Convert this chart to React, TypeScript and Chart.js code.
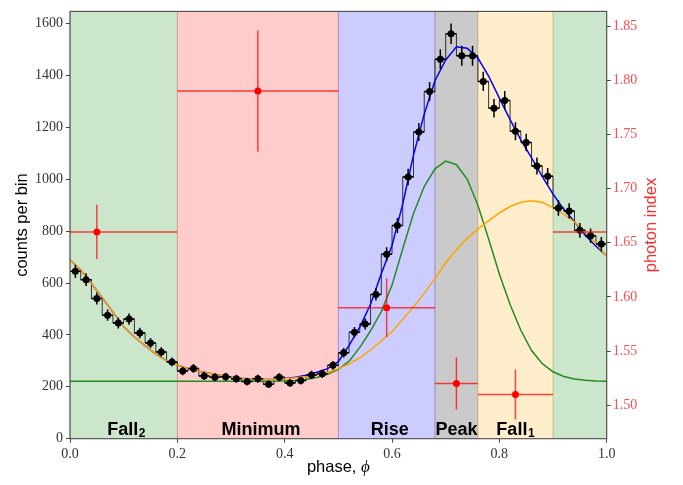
import React, { useEffect, useRef } from "react";
import { Chart, registerables } from "chart.js";

Chart.register(...registerables);

// ---------- data ----------
const binPhase = [
  0.01, 0.03, 0.05, 0.07, 0.09, 0.11, 0.13, 0.15, 0.17, 0.19,
  0.21, 0.23, 0.25, 0.27, 0.29, 0.31, 0.33, 0.35, 0.37, 0.39,
  0.41, 0.43, 0.45, 0.47, 0.49, 0.51, 0.53, 0.55, 0.57, 0.59,
  0.61, 0.63, 0.65, 0.67, 0.69, 0.71, 0.73, 0.75, 0.77, 0.79,
  0.81, 0.83, 0.85, 0.87, 0.89, 0.91, 0.93, 0.95, 0.97, 0.99,
];
const binHalfWidth = [
  0.01, 0.01, 0.01, 0.01, 0.01, 0.01, 0.01, 0.01, 0.01, 0.01,
  0.01, 0.01, 0.01, 0.01, 0.01, 0.01, 0.01, 0.01, 0.01, 0.01,
  0.01, 0.01, 0.01, 0.01, 0.01, 0.01, 0.01, 0.01, 0.01, 0.01,
  0.01, 0.01, 0.01, 0.01, 0.01, 0.01, 0.01, 0.01, 0.01, 0.01,
  0.01, 0.01, 0.01, 0.01, 0.01, 0.01, 0.01, 0.01, 0.01, 0.01,
];
const counts = [
  645, 613, 540, 476, 446, 461, 407, 369, 334, 296,
  261, 271, 242, 237, 239, 231, 220, 231, 210, 237,
  215, 224, 246, 250, 283, 331, 410, 442, 556, 711,
  822, 1009, 1182, 1338, 1463, 1561, 1476, 1476, 1377, 1274,
  1304, 1185, 1142, 1051, 1012, 889, 878, 803, 782, 750,
];
const countErr = [
  25.4, 24.8, 23.2, 21.8, 21.1, 21.5, 20.2, 19.2, 18.3, 17.2,
  16.2, 16.5, 15.6, 15.4, 15.5, 15.2, 14.8, 15.2, 14.5, 15.4,
  14.7, 15.0, 15.7, 15.8, 16.8, 18.2, 20.2, 21.0, 23.6, 26.7,
  28.7, 31.8, 34.4, 36.6, 38.2, 39.5, 38.4, 38.4, 37.1, 35.7,
  36.1, 34.4, 33.8, 32.4, 31.8, 29.8, 29.6, 28.3, 28.0, 27.4,
];

const curvePhase = [
  0.0, 0.02, 0.04, 0.06, 0.08, 0.1, 0.12, 0.14, 0.16, 0.18,
  0.2, 0.22, 0.24, 0.26, 0.28, 0.3, 0.32, 0.34, 0.36, 0.38,
  0.4, 0.42, 0.44, 0.46, 0.48, 0.5, 0.52, 0.54, 0.56, 0.58,
  0.6, 0.62, 0.64, 0.66, 0.68, 0.7, 0.72, 0.74, 0.76, 0.78,
  0.8, 0.82, 0.84, 0.86, 0.88, 0.9, 0.92, 0.94, 0.96, 0.98, 1.0,
];
const totalModel = [
  690, 650, 598, 543, 488, 432, 392, 358, 326, 301,
  284, 270, 260, 252, 245, 238, 233, 229, 228, 229,
  232, 237, 245, 256, 270, 297, 360, 430, 518, 636,
  745, 905, 1093, 1251, 1380, 1460, 1511, 1505, 1467, 1398,
  1313, 1230, 1152, 1082, 1010, 943, 884, 836, 784, 742, 704,
];
const narrowComponent = [
  221, 221, 221, 221, 221, 221, 221, 221, 221, 221,
  221, 221, 221, 221, 221, 221, 221, 221, 221, 221,
  222, 224, 228, 236, 248, 267, 299, 352, 416, 490,
  592, 732, 868, 972, 1040, 1070, 1056, 1001, 900, 770,
  635, 517, 418, 340, 289, 258, 240, 230, 225, 222, 221,
];
const broadComponent = [
  690, 650, 598, 543, 488, 432, 392, 358, 326, 301,
  284, 270, 260, 252, 245, 238, 233, 229, 227, 228,
  231, 235, 240, 246, 256, 270, 288, 312, 342, 377,
  412, 460, 508, 560, 618, 678, 728, 772, 808, 840,
  870, 895, 911, 917, 911, 891, 866, 835, 797, 752, 702,
];

const photonPhase = [0.05, 0.35, 0.59, 0.72, 0.83, 1.05];
const photonPhaseErr = [0.15, 0.15, 0.09, 0.04, 0.07, 0.15];
const photonIndex = [1.66, 1.79, 1.59, 1.52, 1.51, 1.66];
const photonIndexErr = [0.025, 0.056, 0.027, 0.024, 0.023, 0.025];

const regionStart = [0.0, 0.2, 0.5, 0.68, 0.76, 0.9];
const regionEnd = [0.2, 0.5, 0.68, 0.76, 0.9, 1.0];
const regionColor = [
  "rgba(0,128,0,0.2)",
  "rgba(255,0,0,0.2)",
  "rgba(0,0,255,0.2)",
  "rgba(128,128,128,0.42)",
  "rgba(255,165,0,0.2)",
  "rgba(0,128,0,0.2)",
];
const regionLabel = ["Fall", "Minimum", "Rise", "Peak", "Fall"];
const regionLabelSub = ["2", "", "", "", "1"];
const regionLabelPhase = [0.105, 0.356, 0.596, 0.72, 0.83];

const phaseTicks = [0.0, 0.2, 0.4, 0.6, 0.8, 1.0];
const countTicks = [0, 200, 400, 600, 800, 1000, 1200, 1400, 1600];
const indexTicks = [1.5, 1.55, 1.6, 1.65, 1.7, 1.75, 1.8, 1.85];

const xTitle = "phase, ";
const xTitleSymbol = "ϕ";
const yTitle = "counts per bin";
const y1Title = "photon index";

// ---------- layout ----------
const W = 683;
const H = 485;
const AREA_LEFT = 70;
const AREA_RIGHT = 606.7;
const AREA_TOP = 3.5;
const AREA_BOTTOM = 438.7;

const TICK_FONT = { family: "'Liberation Serif', serif", size: 14 };
const TITLE_FONT = "16.5px 'Liberation Sans', sans-serif";

const regionPlugin = {
  id: "regions",
  beforeDatasetsDraw(chart: any) {
    const { ctx, chartArea: a } = chart;
    const xs = chart.scales.x;
    ctx.save();
    regionStart.forEach((s, i) => {
      const x0 = xs.getPixelForValue(s);
      const x1 = xs.getPixelForValue(regionEnd[i]);
      ctx.fillStyle = regionColor[i];
      ctx.fillRect(x0, a.top, x1 - x0, a.bottom - a.top);
      ctx.strokeStyle = regionColor[i];
      ctx.lineWidth = 1;
      ctx.beginPath();
      ctx.moveTo(x0, a.top);
      ctx.lineTo(x0, a.bottom);
      ctx.moveTo(x1, a.top);
      ctx.lineTo(x1, a.bottom);
      ctx.stroke();
    });
    ctx.restore();
  },
};

const errorBarPlugin = {
  id: "errorbars",
  beforeDatasetDraw(chart: any, args: any) {
    const ds: any = chart.data.datasets[args.index];
    if (!ds.errY) return;
    const { ctx, chartArea: a } = chart;
    const xs = chart.scales.x;
    const ys = chart.scales[ds.yAxisID];
    ctx.save();
    ctx.beginPath();
    ctx.rect(a.left, a.top, a.right - a.left, a.bottom - a.top);
    ctx.clip();
    ctx.strokeStyle = ds.errColor;
    ctx.lineWidth = ds.errWidth;
    ds.data.forEach((p: any, i: number) => {
      const cx = xs.getPixelForValue(p.x);
      const cy = ys.getPixelForValue(p.y);
      ctx.beginPath();
      ctx.moveTo(xs.getPixelForValue(p.x - ds.errX[i]), cy);
      ctx.lineTo(xs.getPixelForValue(p.x + ds.errX[i]), cy);
      ctx.moveTo(cx, ys.getPixelForValue(p.y - ds.errY[i]));
      ctx.lineTo(cx, ys.getPixelForValue(p.y + ds.errY[i]));
      ctx.stroke();
    });
    ctx.restore();
  },
};

const decorPlugin = {
  id: "decor",
  afterDraw(chart: any) {
    const { ctx, chartArea: a } = chart;
    const xs = chart.scales.x;
    ctx.save();
    // region labels
    ctx.fillStyle = "#000";
    ctx.textBaseline = "alphabetic";
    ctx.textAlign = "left";
    regionLabel.forEach((t, i) => {
      ctx.font = "bold 18px 'Liberation Sans', sans-serif";
      const w1 = ctx.measureText(t).width;
      ctx.font = "bold 12px 'Liberation Sans', sans-serif";
      const w2 = regionLabelSub[i] ? ctx.measureText(regionLabelSub[i]).width + 0.5 : 0;
      const cx = xs.getPixelForValue(regionLabelPhase[i]);
      const x0 = cx - (w1 + w2) / 2;
      ctx.font = "bold 18px 'Liberation Sans', sans-serif";
      ctx.fillText(t, x0, a.bottom - 3.5);
      if (regionLabelSub[i]) {
        ctx.font = "bold 12px 'Liberation Sans', sans-serif";
        ctx.fillText(regionLabelSub[i], x0 + w1 + 0.5, a.bottom - 1.5);
      }
    });
    // spines
    ctx.strokeStyle = "#4a4a4a";
    ctx.lineWidth = 1.1;
    ctx.strokeRect(a.left, a.top, a.right - a.left, a.bottom - a.top);
    // x title
    ctx.fillStyle = "#000";
    ctx.font = TITLE_FONT;
    const wA = ctx.measureText(xTitle).width;
    ctx.font = "italic 17px 'Liberation Serif', serif";
    const wB = ctx.measureText(xTitleSymbol).width;
    const xc = (a.left + a.right) / 2;
    const xs0 = xc - (wA + wB) / 2;
    ctx.font = TITLE_FONT;
    ctx.fillText(xTitle, xs0, 472);
    ctx.font = "italic 17px 'Liberation Serif', serif";
    ctx.fillText(xTitleSymbol, xs0 + wA, 472);
    // y titles
    const yc = (a.top + a.bottom) / 2;
    ctx.font = TITLE_FONT;
    ctx.textAlign = "center";
    ctx.textBaseline = "middle";
    ctx.save();
    ctx.translate(22, yc);
    ctx.rotate(-Math.PI / 2);
    ctx.fillStyle = "#000";
    ctx.fillText(yTitle, 0, 0);
    ctx.restore();
    ctx.save();
    ctx.translate(651, yc);
    ctx.rotate(-Math.PI / 2);
    ctx.fillStyle = "#ff2a2a";
    ctx.fillText(y1Title, 0, 0);
    ctx.restore();
    ctx.restore();
  },
};

export default function App() {
  const ref = useRef<HTMLCanvasElement | null>(null);

  useEffect(() => {
    if (!ref.current) return;
    const chart = new Chart(ref.current, {
      type: "scatter",
      data: {
        datasets: [
          {
            type: "line",
            label: "histogram",
            data: binPhase.map((x, i) => ({ x, y: counts[i] })),
            stepped: "middle",
            borderColor: "rgba(20,20,20,0.85)",
            borderWidth: 1,
            pointRadius: 0,
            fill: false,
            yAxisID: "y",
            order: 7,
          } as any,
          {
            type: "line",
            label: "total",
            data: curvePhase.map((x, i) => ({ x, y: totalModel[i] })),
            borderColor: "#0000ff",
            borderWidth: 1.5,
            pointRadius: 0,
            tension: 0,
            fill: false,
            yAxisID: "y",
            order: 6,
          } as any,
          {
            type: "line",
            label: "narrow",
            data: curvePhase.map((x, i) => ({ x, y: narrowComponent[i] })),
            borderColor: "#228b22",
            borderWidth: 1.5,
            pointRadius: 0,
            tension: 0,
            fill: false,
            yAxisID: "y",
            order: 5,
          } as any,
          {
            type: "line",
            label: "broad",
            data: curvePhase.map((x, i) => ({ x, y: broadComponent[i] })),
            borderColor: "#ffa500",
            borderWidth: 1.5,
            pointRadius: 0,
            tension: 0,
            fill: false,
            yAxisID: "y",
            order: 4,
          } as any,
          {
            type: "scatter",
            label: "counts",
            data: binPhase.map((x, i) => ({ x, y: counts[i] })),
            errX: binHalfWidth,
            errY: countErr,
            errColor: "#000",
            errWidth: 1.5,
            pointRadius: 3.5,
            pointBackgroundColor: "#000",
            pointBorderWidth: 0,
            yAxisID: "y",
            order: 3,
          } as any,
          {
            type: "scatter",
            label: "photon index",
            data: photonPhase.map((x, i) => ({ x, y: photonIndex[i] })),
            errX: photonPhaseErr,
            errY: photonIndexErr,
            errColor: "rgba(255,0,0,0.72)",
            errWidth: 1.5,
            pointRadius: 3.5,
            pointBackgroundColor: "#ff0000",
            pointBorderWidth: 0,
            yAxisID: "y1",
            order: 1,
          } as any,
        ],
      },
      options: {
        responsive: false,
        maintainAspectRatio: false,
        devicePixelRatio: 1,
        animation: false,
        events: [],
        layout: { padding: { top: AREA_TOP, left: 0, right: 0, bottom: 0 } },
        plugins: { legend: { display: false }, tooltip: { enabled: false } },
        scales: {
          x: {
            type: "linear",
            position: "bottom",
            min: 0,
            max: 1,
            afterFit: (s: any) => {
              s.height = H - AREA_BOTTOM;
            },
            afterBuildTicks: (s: any) => {
              s.ticks = phaseTicks.map((v) => ({ value: v }));
            },
            ticks: {
              font: TICK_FONT,
              color: "#333",
              padding: 3,
              maxRotation: 0,
              autoSkip: false,
              callback: (v: any) => Number(v).toFixed(1),
            },
            grid: { drawOnChartArea: false, drawTicks: true, tickLength: 4, color: "#444" },
            border: { display: false },
          },
          y: {
            type: "linear",
            position: "left",
            min: 0,
            max: 1647,
            afterFit: (s: any) => {
              s.width = AREA_LEFT;
            },
            afterBuildTicks: (s: any) => {
              s.ticks = countTicks.map((v) => ({ value: v }));
            },
            ticks: {
              font: TICK_FONT,
              color: "#333",
              padding: 3,
              autoSkip: false,
              callback: (v: any) => String(Math.round(Number(v))),
            },
            grid: { drawOnChartArea: false, drawTicks: true, tickLength: 4, color: "#444" },
            border: { display: false },
          },
          y1: {
            type: "linear",
            position: "right",
            min: 1.4691,
            max: 1.8636,
            afterFit: (s: any) => {
              s.width = W - AREA_RIGHT;
            },
            afterBuildTicks: (s: any) => {
              s.ticks = indexTicks.map((v) => ({ value: v }));
            },
            ticks: {
              font: TICK_FONT,
              color: "#ff4d4d",
              padding: 2,
              autoSkip: false,
              callback: (v: any) => Number(v).toFixed(2),
            },
            grid: { drawOnChartArea: false, drawTicks: true, tickLength: 4, color: "#444" },
            border: { display: false },
          },
        },
      } as any,
      plugins: [regionPlugin, errorBarPlugin, decorPlugin],
    });
    return () => chart.destroy();
  }, []);

  return (
    <div style={{ position: "fixed", left: 0, top: 0, width: W, height: H, background: "#fff" }}>
      <canvas ref={ref} width={W} height={H} style={{ display: "block", width: W, height: H }} />
    </div>
  );
}
